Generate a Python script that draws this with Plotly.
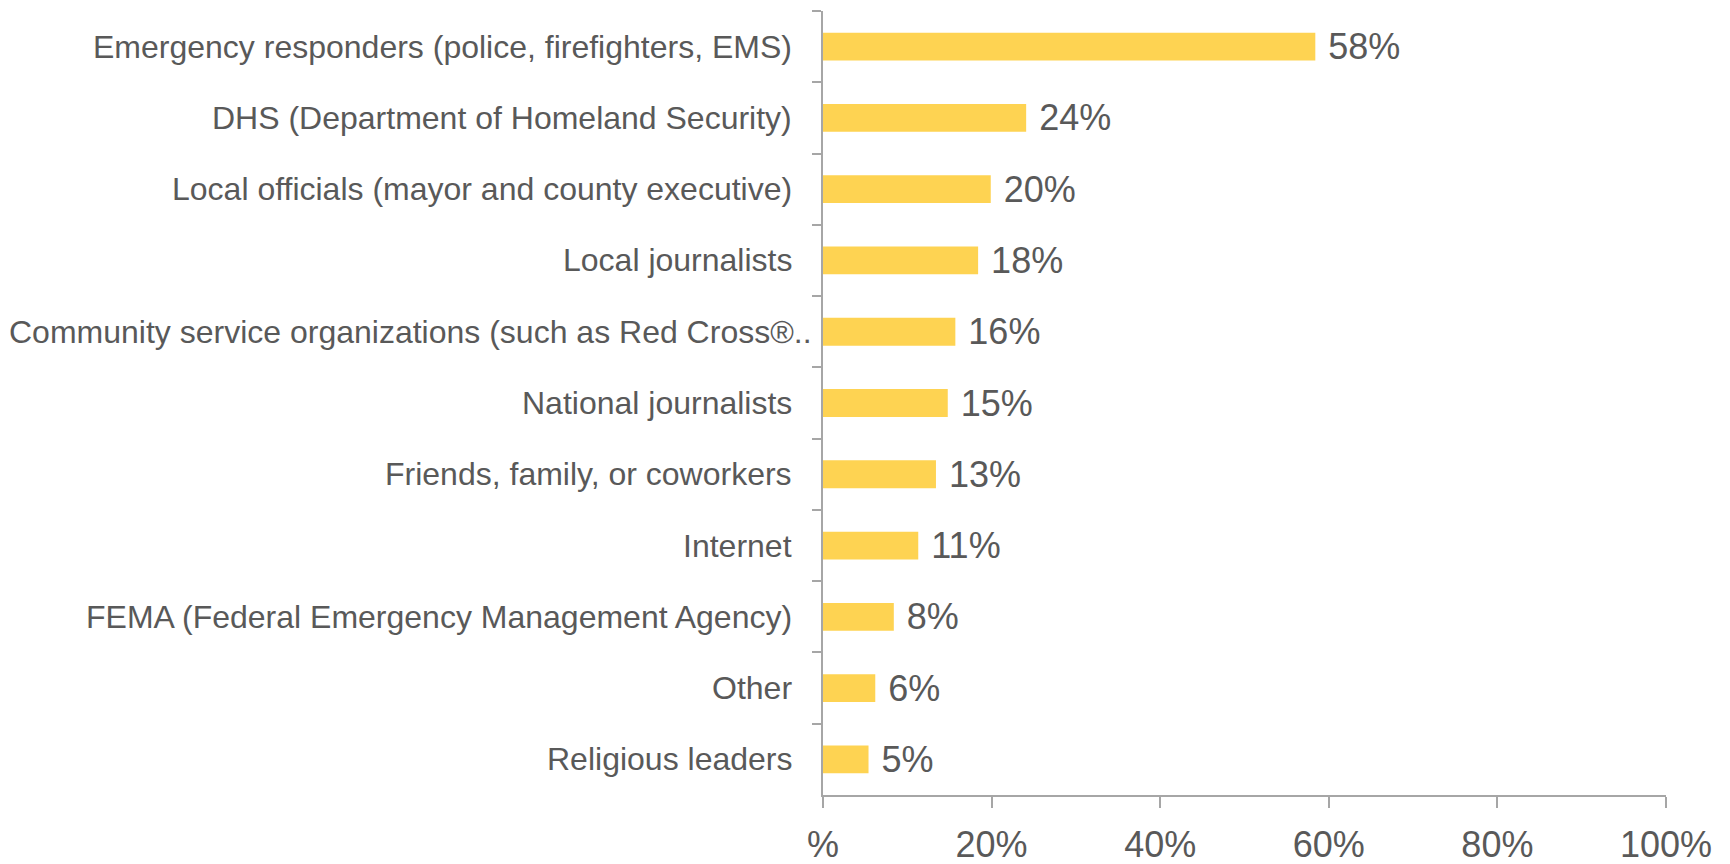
import plotly.graph_objects as go

categories = [
    "Emergency responders (police, firefighters, EMS)",
    "DHS (Department of Homeland Security)",
    "Local officials (mayor and county executive)",
    "Local journalists",
    "Community service organizations (such as Red Cross®..",
    "National journalists",
    "Friends, family, or coworkers",
    "Internet",
    "FEMA (Federal Emergency Management Agency)",
    "Other",
    "Religious leaders",
]
values = [58.4, 24.1, 19.9, 18.4, 15.7, 14.8, 13.4, 11.3, 8.4, 6.2, 5.4]
tick_vals = [0, 20, 40, 60, 80, 100]
tick_text = ["%", "20%", "40%", "60%", "80%", "100%"]

text_color = "#595959"
axis_color = "#A6A6A6"
font_family = "Liberation Sans, Arial, sans-serif"

fig = go.Figure(
    go.Bar(
        x=values,
        y=categories,
        orientation="h",
        marker=dict(color="#FED352", line=dict(width=0)),
        texttemplate="\u00a0%{x:.0f}%",
        textposition="outside",
        constraintext="none",
        cliponaxis=False,
        textfont=dict(size=36, color=text_color, family=font_family),
        hoverinfo="skip",
    )
)

# category labels (right-aligned left of the axis; the truncated one overflows closer)
for cat in categories:
    shift = -9 if cat.endswith("..") else -29
    fig.add_annotation(
        x=0, xref="x", y=cat, yref="y",
        text=cat, showarrow=False,
        xanchor="right", yanchor="middle",
        xshift=shift,
        font=dict(size=32, color=text_color, family=font_family),
    )

fig.update_layout(
    width=1730,
    height=864,
    margin=dict(l=815, r=72, t=3, b=77, autoexpand=False),
    paper_bgcolor="white",
    plot_bgcolor="white",
    bargap=0.61,
    showlegend=False,
    font=dict(family=font_family, color=text_color),
)

fig.update_xaxes(
    range=[0, 100],
    tickvals=tick_vals,
    ticktext=tick_text,
    automargin=False,
    showgrid=False,
    zeroline=False,
    showline=True,
    linecolor=axis_color,
    linewidth=1.5,
    ticks="outside",
    ticklen=11,
    tickwidth=1.5,
    tickcolor=axis_color,
    tickfont=dict(size=36, color=text_color, family=font_family),
    ticklabelstandoff=6,
)

fig.update_yaxes(
    autorange="reversed",
    automargin=False,
    showgrid=False,
    zeroline=False,
    showline=True,
    linecolor=axis_color,
    linewidth=1.5,
    ticks="outside",
    tickson="boundaries",
    ticklen=9,
    tickwidth=1.5,
    tickcolor=axis_color,
    showticklabels=False,
)

fig.write_html("out.html")
